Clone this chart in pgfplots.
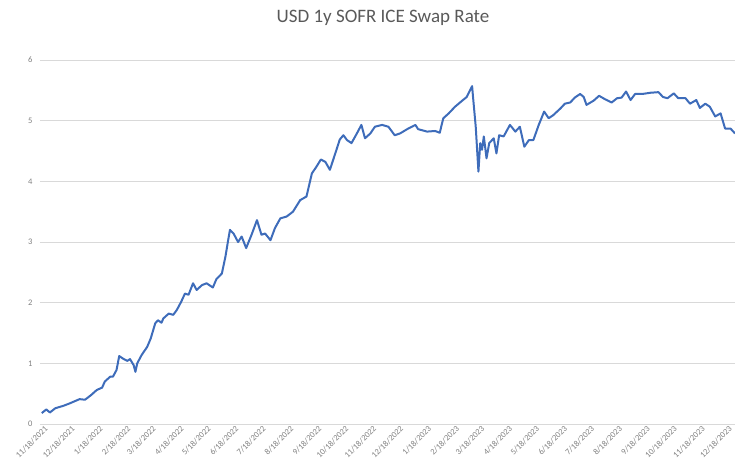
\documentclass[border=0pt]{standalone}
\usepackage{pgfplots}
\pgfplotsset{compat=1.18}
\usepackage{fontspec}
\setmainfont{Carlito}
\definecolor{xlblue}{RGB}{62,108,186}
\definecolor{xlgray}{RGB}{89,89,89}
\definecolor{xlgrid}{RGB}{217,217,217}
\begin{document}
\begin{tikzpicture}
\begin{axis}[
  at={(0pt,0pt)}, anchor=origin,
  scale only axis,
  width=695pt, height=364pt,
  xmin=0, xmax=772, ymin=0, ymax=6,
  ytick={0,1,...,6},
  xtick={0,30,61,92,120,151,181,212,242,273,304,334,365,395,426,457,485,516,546,577,607,638,669,699,730,760},
  xticklabels={11/18/2021,12/18/2021,1/18/2022,2/18/2022,3/18/2022,4/18/2022,5/18/2022,6/18/2022,7/18/2022,8/18/2022,9/18/2022,10/18/2022,11/18/2022,12/18/2022,1/18/2023,2/18/2023,3/18/2023,4/18/2023,5/18/2023,6/18/2023,7/18/2023,8/18/2023,9/18/2023,10/18/2023,11/18/2023,12/18/2023},
  x tick label style={rotate=45, anchor=east, inner sep=0pt, yshift=-7pt, xshift=2pt, font=\fontsize{8.5}{9}\selectfont, text=gray},
  y tick label style={font=\fontsize{8.5}{9}\selectfont, text=gray, xshift=-4pt},
  /pgf/number format/assume math mode=true,
  axis line style={draw=none},
  major tick length=0pt,
  ymajorgrids,
  grid style={xlgrid, line width=0.8pt},
  clip=false,
]
\addplot[xlblue, line width=2pt, line join=round] coordinates {
(2,0.18) (7,0.24) (11,0.19) (17,0.26) (26,0.30) (33,0.34) (44,0.41) (50,0.40)
(57,0.48) (63,0.56) (69,0.60) (72,0.70) (78,0.78) (81,0.78) (85,0.89) (88,1.12)
(93,1.07) (97,1.04) (100,1.07) (104,0.97) (106,0.86) (108,1.00) (113,1.14) (119,1.27)
(123,1.41) (128,1.66) (131,1.71) (135,1.67) (137,1.74) (143,1.82) (148,1.80) (152,1.88)
(157,2.02) (161,2.15) (165,2.13) (170,2.32) (174,2.21) (180,2.29) (185,2.32) (192,2.25)
(196,2.39) (202,2.48) (206,2.76) (209,3.03) (211,3.20) (215,3.14) (220,3.00) (224,3.09)
(229,2.90) (235,3.12) (241,3.36) (246,3.12) (250,3.14) (256,3.03) (261,3.23) (267,3.39)
(274,3.42) (281,3.50) (289,3.69) (296,3.75) (302,4.13) (307,4.24) (312,4.36) (317,4.32)
(322,4.19) (328,4.46) (333,4.69) (337,4.76) (341,4.68) (346,4.63) (352,4.79) (357,4.93)
(361,4.71) (367,4.79) (372,4.90) (380,4.93) (387,4.90) (394,4.76) (400,4.79) (409,4.87)
(417,4.93) (420,4.86) (430,4.82) (439,4.83) (444,4.80) (448,5.04) (454,5.12) (461,5.23)
(469,5.33) (474,5.39) (478,5.51) (480,5.57) (481,5.39) (484,4.90) (487,4.16) (489,4.63)
(491,4.52) (493,4.74) (496,4.38) (499,4.63) (504,4.71) (507,4.46) (510,4.76) (515,4.74)
(522,4.93) (528,4.82) (533,4.90) (538,4.57) (543,4.68) (548,4.68) (554,4.93) (560,5.15)
(565,5.04) (570,5.09) (578,5.20) (583,5.28) (589,5.30) (594,5.38) (600,5.44) (604,5.39)
(607,5.26) (615,5.33) (621,5.41) (628,5.35) (635,5.30) (641,5.37) (646,5.38) (651,5.48)
(656,5.34) (661,5.44) (669,5.44) (678,5.46) (687,5.47) (692,5.39) (697,5.37) (704,5.45)
(709,5.37) (717,5.37) (722,5.28) (729,5.34) (733,5.21) (739,5.28) (744,5.23) (750,5.07)
(756,5.12) (761,4.87) (767,4.87) (772,4.79)
};
\end{axis}
\node[text=xlgray, font=\fontsize{19}{22}\selectfont] at (343pt,406pt) {USD 1y SOFR ICE Swap Rate};
\pgfresetboundingbox
\path (-40pt,-42pt) rectangle (695pt,424pt);
\end{tikzpicture}
\end{document}
